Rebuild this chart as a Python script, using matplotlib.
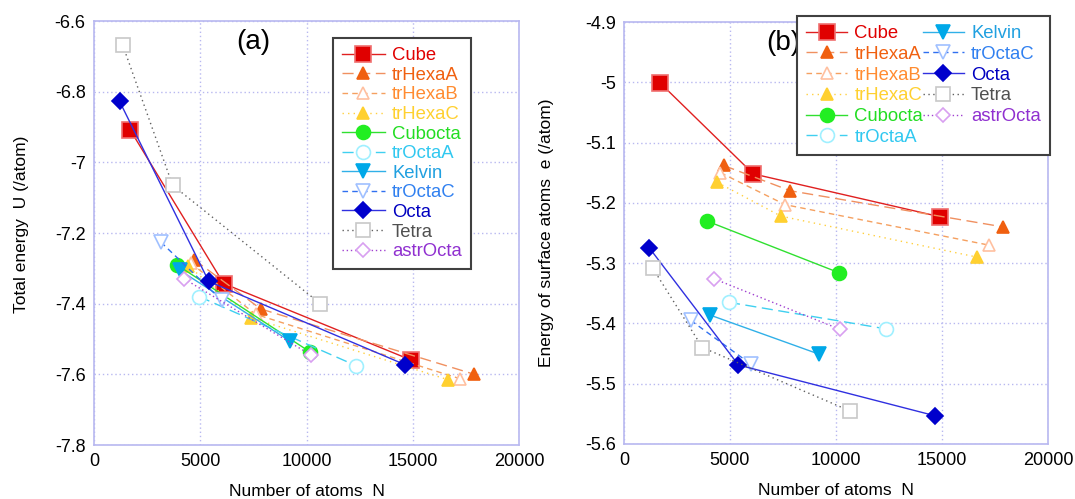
import numpy as np
import matplotlib.pyplot as plt
from matplotlib.ticker import FuncFormatter

plt.rcParams['font.family'] = ['Liberation Sans', 'DejaVu Sans']

names = ['Cube', 'trHexaA', 'trHexaB', 'trHexaC', 'Cubocta', 'trOctaA',
         'Kelvin', 'trOctaC', 'Octa', 'Tetra', 'astrOcta']

# number of atoms for each shape
N = {
    'Cube':     [1700, 6100, 14900],
    'trHexaA':  [4700, 7850, 17900],
    'trHexaB':  [4550, 7600, 17200],
    'trHexaC':  [4400, 7400, 16650],
    'Cubocta':  [3900, 10150],
    'trOctaA':  [4950, 12350],
    'Kelvin':   [4050, 9200],
    'trOctaC':  [3150, 6000],
    'Octa':     [1200, 5400, 14650],
    'Tetra':    [1350, 3700, 10650],
    'astrOcta': [4250, 10200],
}
# total energy U (/atom), panel (a)
U = {
    'Cube':     [-6.908, -7.343, -7.559],
    'trHexaA':  [-7.275, -7.415, -7.600],
    'trHexaB':  [-7.285, -7.430, -7.612],
    'trHexaC':  [-7.292, -7.440, -7.615],
    'Cubocta':  [-7.290, -7.536],
    'trOctaA':  [-7.380, -7.576],
    'Kelvin':   [-7.306, -7.505],
    'trOctaC':  [-7.226, -7.390],
    'Octa':     [-6.827, -7.337, -7.573],
    'Tetra':    [-6.668, -7.065, -7.400],
    'astrOcta': [-7.330, -7.545],
}
# energy of surface atoms e (/atom), panel (b)
E = {
    'Cube':     [-5.001, -5.152, -5.223],
    'trHexaA':  [-5.138, -5.180, -5.240],
    'trHexaB':  [-5.150, -5.203, -5.270],
    'trHexaC':  [-5.166, -5.222, -5.290],
    'Cubocta':  [-5.230, -5.316],
    'trOctaA':  [-5.365, -5.409],
    'Kelvin':   [-5.386, -5.451],
    'trOctaC':  [-5.395, -5.468],
    'Octa':     [-5.275, -5.469, -5.553],
    'Tetra':    [-5.308, -5.440, -5.545],
    'astrOcta': [-5.326, -5.410],
}

# line colour, line style, marker, marker face, marker edge, size, text colour
style = {
    'Cube':     ('#e02020', '-', 's', '#e00000', '#f07070', 11, '#e00000'),
    'trHexaA':  ('#f09060', (0, (8, 4)), '^', '#f06010', '#f06010', 9, '#f06010'),
    'trHexaB':  ('#f5a060', (0, (4, 3)), '^', 'white', '#ffc0a0', 9, '#ff8c30'),
    'trHexaC':  ('#ffd040', (0, (1, 3)), '^', '#ffd030', '#ffd030', 9, '#ffd030'),
    'Cubocta':  ('#30e030', '-', 'o', '#22ee22', '#22ee22', 10, '#22dd22'),
    'trOctaA':  ('#40d0f0', (0, (8, 4)), 'o', 'white', '#a0f0ff', 10, '#30c8f0'),
    'Kelvin':   ('#30b0e8', '-', 'v', '#00a8e8', '#00a8e8', 10, '#20a0e0'),
    'trOctaC':  ('#3070f0', (0, (4, 3)), 'v', 'white', '#a0c0ff', 10, '#3080f0'),
    'Octa':     ('#3030e0', '-', 'D', '#0000cc', '#0000cc', 8, '#0000c0'),
    'Tetra':    ('#606060', (0, (1, 2.5)), 's', 'white', '#c8c8c8', 10, '#505050'),
    'astrOcta': ('#a040d0', (0, (1, 2)), 'D', 'white', '#d8a0f0', 7, '#9030d0'),
}

grid_c = '#b8b8f0'

fig = plt.figure(figsize=(10.75, 4.99), dpi=100)
ax1 = fig.add_axes([94/1075, 1-445/499, 425/1075, 424/499])
ax2 = fig.add_axes([624/1075, 1-444/499, 424/1075, 422/499])

fmt = FuncFormatter(lambda v, p: '%g' % round(v, 3))

for ax, data in [(ax1, U), (ax2, E)]:
    for n in names:
        lc, ls, mk, mf, me, ms, tc = style[n]
        ax.plot(N[n], data[n], color=lc, linestyle=ls, linewidth=1.0,
                marker=mk, markerfacecolor=mf, markeredgecolor=me,
                markersize=ms, markeredgewidth=1.2, label=n)
    ax.set_xlim(0, 20000)
    ax.set_xticks(np.arange(0, 20001, 5000))
    ax.yaxis.set_major_formatter(fmt)
    ax.grid(True, color=grid_c, linestyle=(0, (1, 2)), linewidth=1.0)
    ax.set_axisbelow(True)
    for s in ax.spines.values():
        s.set_color(grid_c)
        s.set_linewidth(1.2)
    ax.tick_params(length=0, labelsize=13, pad=6)
    ax.set_xlabel('Number of atoms  N', fontsize=12.5, labelpad=10)

ax1.set_ylim(-7.8, -6.6)
ax1.set_yticks(np.arange(-7.8, -6.59, 0.2))
ax1.set_ylabel('Total energy  U (/atom)', fontsize=12.5)
ax1.yaxis.set_label_coords(-0.152, 0.52)
ax2.set_ylim(-5.6, -4.9)
ax2.set_yticks(np.arange(-5.6, -4.89, 0.1))
ax2.set_ylabel('Energy of surface atoms  e (/atom)', fontsize=12.5)
ax2.yaxis.set_label_coords(-0.165, 0.5)

ax1.text(0.375, 0.95, '(a)', transform=ax1.transAxes, fontsize=20,
         ha='center', va='center')
ax2.text(0.375, 0.95, '(b)', transform=ax2.transAxes, fontsize=20,
         ha='center', va='center')

def dress(leg):
    fr = leg.get_frame()
    fr.set_edgecolor('#404040')
    fr.set_linewidth(1.5)
    fr.set_alpha(1)
    for t, n in zip(leg.get_texts(), names):
        t.set_color(style[n][6])

leg1 = ax1.legend(loc='upper left', bbox_to_anchor=(333/1075, 1-38/499),
                  bbox_transform=fig.transFigure, fontsize=13.3,
                  fancybox=False, handlelength=2.3, handletextpad=0.4,
                  labelspacing=0.14, borderpad=0.5, borderaxespad=0)
dress(leg1)
leg2 = ax2.legend(loc='upper left', bbox_to_anchor=(797/1075, 1-16/499),
                  bbox_transform=fig.transFigure, fontsize=13.3, ncol=2,
                  fancybox=False, handlelength=2.2, handletextpad=0.4,
                  labelspacing=0.2, borderpad=0.5, borderaxespad=0,
                  columnspacing=0.0)
dress(leg2)

fig.savefig('out.png', dpi=100)
